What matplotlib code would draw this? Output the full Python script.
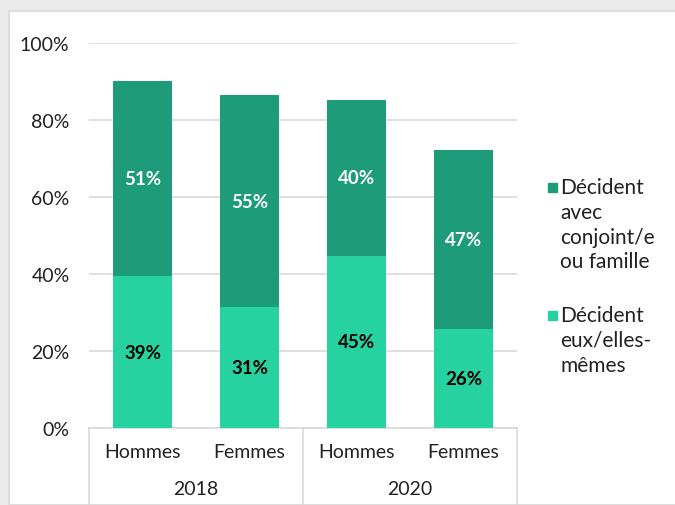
import numpy as np
import matplotlib
matplotlib.use("Agg")
import matplotlib.pyplot as plt
from matplotlib.patches import Rectangle
from matplotlib.transforms import blended_transform_factory

plt.rcParams['font.family'] = ['Lato', 'DejaVu Sans']

# data
groups = ["Hommes", "Femmes", "Hommes", "Femmes"]
years = ["2018", "2020"]
seules = [0.394, 0.313, 0.448, 0.257]      # Décident eux/elles-mêmes
conjoint = [0.508, 0.552, 0.404, 0.466]    # Décident avec conjoint/e ou famille
yticks = [0, 0.2, 0.4, 0.6, 0.8, 1.0]
ytick_labels = ["0%", "20%", "40%", "60%", "80%", "100%"]
label_seules = "Décident\neux/elles-\nmêmes"
label_conjoint = "Décident\navec\nconjoint/e\nou famille"

c_light = "#25d2a0"
c_dark = "#1e9b78"
grid_col = "#d9d9d9"
txt_col = "#222222"
fs = 14

fig = plt.figure(figsize=(6.75, 5.06), dpi=100)
fig.patch.set_facecolor("white")
# grey frame around the chart area
fig.patches.append(Rectangle((0, 0), 1, 1, transform=fig.transFigure, color="#ebebeb", zorder=-10))
fig.patches.append(Rectangle((9 / 675, 0), 1, 1 - 12 / 506, transform=fig.transFigure,
                             facecolor="white", edgecolor="#dcdcdc", lw=1.5, zorder=-9))

ax = fig.add_axes([89 / 675, 1 - 429 / 506, (517 - 89) / 675, 385 / 506])
x = np.arange(len(groups))
w = 0.55
b1 = ax.bar(x, seules, w, color=c_light, zorder=3)
b2 = ax.bar(x, conjoint, w, bottom=seules, color=c_dark, zorder=3)

for i in range(len(x)):
    ax.text(x[i], seules[i] / 2, f"{seules[i] * 100:.0f}%", ha="center", va="center",
            fontsize=13.5, fontweight="bold", color="black", zorder=4)
    ax.text(x[i], seules[i] + conjoint[i] / 2, f"{conjoint[i] * 100:.0f}%", ha="center",
            va="center", fontsize=13.5, fontweight="bold", color="white", zorder=4)

ax.set_xlim(-0.5, len(groups) - 0.5)
ax.set_ylim(0, 1.0)
ax.set_yticks(yticks)
ax.set_yticklabels(ytick_labels, fontsize=fs, color=txt_col)
ax.yaxis.grid(True, color=grid_col, lw=1.2, zorder=0)
ax.tick_params(axis="y", length=0, pad=14)
ax.set_xticks([])
for s in ["top", "right", "left"]:
    ax.spines[s].set_visible(False)
ax.spines["bottom"].set_color(grid_col)
ax.spines["bottom"].set_linewidth(1.2)

# two-level category axis
trans = blended_transform_factory(ax.transData, ax.transAxes)
for xv in [-0.5, 1.5, 3.5]:
    ax.plot([xv, xv], [0, -0.21], color=grid_col, lw=1.2, transform=trans, clip_on=False)
for i, g in enumerate(groups):
    ax.text(x[i], -0.062, g, ha="center", va="center", fontsize=fs, color=txt_col,
            transform=trans)
for j, yr in enumerate(years):
    ax.text(0.5 + 2 * j, -0.158, yr, ha="center", va="center", fontsize=fs,
            color=txt_col, transform=trans)

# legend, square aligned with the first line of each label
leg_items = [(c_dark, label_conjoint, 188), (c_light, label_seules, 316)]
for col, lab, ypix in leg_items:
    fig.patches.append(Rectangle((548 / 675, 1 - (ypix + 4.5) / 506), 9 / 675, 9 / 506,
                                 transform=fig.transFigure, color=col))
    fig.text(560 / 675, 1 - (ypix - 10) / 506, lab, ha="left", va="top", fontsize=15,
             color=txt_col, linespacing=1.3)

fig.savefig("out.png", dpi=100)
